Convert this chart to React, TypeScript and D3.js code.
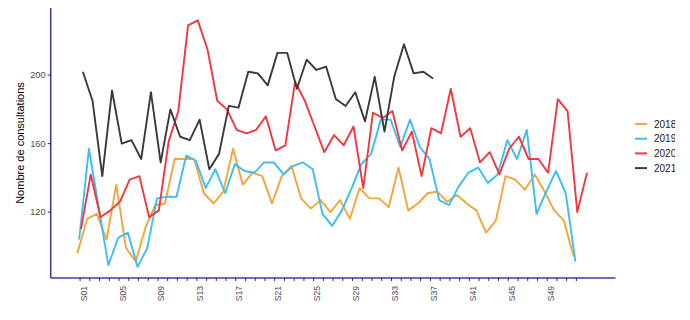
import React from "react";
import * as d3 from "d3";

const years = ["2018", "2019", "2020", "2021"];
const colors = ["#F3A53B", "#3DBEF2", "#F2383E", "#3A3A3A"];

const v2018 = [96, 116, 119, 104, 136, 99, 91, 111, 124, 125, 151, 151, 151, 131, 125, 132, 157, 136, 143, 141, 125, 141, 147, 128, 122, 127, 120, 127, 116, 134, 128, 128, 123, 146, 121, 125, 131, 132, 126, 130, 125, 121, 108, 115, 141, 139, 133, 142, 132, 121, 115, 94];
const v2019 = [104, 157, 123, 89, 105, 108, 88, 99, 128, 129, 129, 153, 150, 134, 145, 131, 148, 144, 143, 149, 149, 142, 147, 149, 145, 119, 112, 121, 134, 148, 154, 174, 174, 158, 174, 158, 151, 127, 124, 135, 143, 146, 137, 142, 162, 151, 168, 119, 132, 144, 131, 91];
const v2020 = [110, 142, 117, 121, 126, 139, 141, 117, 121, 161, 179, 229, 232, 215, 185, 180, 168, 166, 168, 176, 156, 159, 196, 185, 170, 155, 165, 159, 170, 134, 178, 175, 179, 156, 167, 141, 169, 166, 192, 164, 169, 149, 155, 142, 157, 164, 151, 151, 143, 186, 179, 120, 143];
const v2021 = [202, 185, 141, 191, 160, 162, 151, 190, 149, 180, 164, 162, 174, 145, 154, 182, 181, 202, 201, 194, 213, 213, 192, 209, 203, 205, 186, 182, 190, 173, 199, 167, 199, 218, 201, 202, 198];

const series = [v2018, v2019, v2020, v2021];
const weekTicks = d3.range(1, 53);
const weekLabels = weekTicks.map((w) => "S" + String(w).padStart(2, "0"));
const yTicks = [120, 160, 200];
const yTitle = "Nombre de consultations";

const W = 690;
const H = 320;
const left = 50.7;
const right = 615.5;
const top = 8;
const bottom = 278;
const dodge = [-0.28, -0.094, 0.094, 0.28];
const font = "'Liberation Sans', Arial, Helvetica, sans-serif";
const axisColor = "#3b3bab";

export default function App() {
  const x = d3.scaleLinear().domain([-2.02, 56.02]).range([left, right]);
  const y = d3.scaleLinear().domain([81.5, 239.2]).range([bottom, top]);

  return (
    <svg
      width={W}
      height={H}
      style={{ position: "absolute", left: 0, top: 0, background: "#fff" }}
      fontFamily={font}
    >
      <defs>
        <clipPath id="cut">
          <rect x={0} y={0} width={675} height={H} />
        </clipPath>
      </defs>
      {series.map((vals, si) => {
        const line = d3
          .line<number>()
          .x((_, i) => x(i + 1 + dodge[si]))
          .y((d) => y(d));
        return (
          <path
            key={si}
            d={line(vals) || ""}
            fill="none"
            stroke={colors[si]}
            strokeWidth={1.9}
            strokeLinejoin="round"
          />
        );
      })}

      {/* axes */}
      <line x1={left} x2={left} y1={top} y2={bottom} stroke={axisColor} strokeWidth={1.6} />
      <line x1={left} x2={right} y1={bottom} y2={bottom} stroke={axisColor} strokeWidth={1.6} />

      {yTicks.map((t) => (
        <g key={t}>
          <line x1={left - 3} x2={left} y1={y(t)} y2={y(t)} stroke="#333" strokeWidth={1} />
          <text
            x={left - 5}
            y={y(t)}
            dy="0.35em"
            textAnchor="end"
            fontSize={9.3}
            fill="#4d4d4d"
          >
            {t}
          </text>
        </g>
      ))}

      {weekTicks.map((w, i) => (
        <g key={w}>
          <line x1={x(w)} x2={x(w)} y1={bottom} y2={bottom + 3} stroke="#333" strokeWidth={1} />
          {i % 4 === 0 ? (
            <text
              transform={`translate(${x(w) + 3.5},${bottom + 8}) rotate(-90)`}
              dy="0.35em"
              textAnchor="end"
              fontSize={8.6}
              fill="#4d4d4d"
            >
              {weekLabels[i]}
            </text>
          ) : null}
        </g>
      ))}

      <text
        transform={`translate(20,${(top + bottom) / 2}) rotate(-90)`}
        dy="0.35em"
        textAnchor="middle"
        fontSize={11}
        fill="#000"
      >
        {yTitle}
      </text>

      <g clipPath="url(#cut)">
        {years.map((yr, i) => (
          <g key={yr} transform={`translate(635,${124 + i * 14.7})`}>
            <line x1={0} x2={12} y1={0} y2={0} stroke={colors[i]} strokeWidth={2} />
            <text x={19} y={0} dy="0.35em" fontSize={10} fill="#1a1a1a">
              {yr}
            </text>
          </g>
        ))}
      </g>
    </svg>
  );
}
